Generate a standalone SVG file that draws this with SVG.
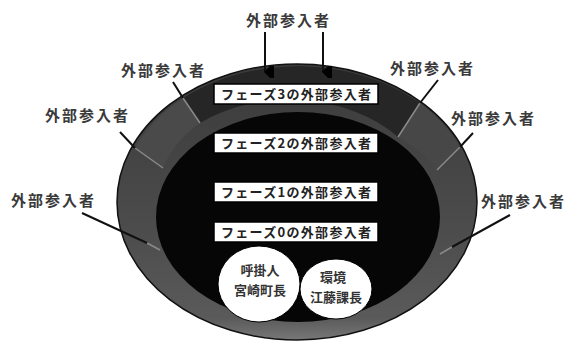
<svg xmlns="http://www.w3.org/2000/svg" width="583" height="346" viewBox="0 0 583 346">
<defs>
<style>
.lbl{font-family:"Noto Sans CJK JP","Noto Sans",sans-serif;font-size:15px;fill:#3a3a3a;font-weight:bold;letter-spacing:2px}
.ph{font-family:"Noto Sans CJK JP","Noto Sans",sans-serif;font-size:13px;fill:#222;font-weight:bold;text-anchor:middle}
.box{fill:#fff;stroke:#000;stroke-width:1.5}
.call{stroke:#111;stroke-width:2;fill:none}
.div{stroke:#8a8a8a;stroke-width:1.5;fill:none}
.ct{font-family:"Noto Sans CJK JP","Noto Sans",sans-serif;font-size:13px;fill:#333;font-weight:bold;text-anchor:middle}
</style>
<linearGradient id="ring" x1="0" y1="0" x2="0" y2="1">
<stop offset="0" stop-color="#3a3a3a"/>
<stop offset="0.6" stop-color="#4c4c4c"/>
<stop offset="0.92" stop-color="#5a5a5a"/>
<stop offset="1" stop-color="#777"/>
</linearGradient>
<marker id="ah" viewBox="0 0 12 12" refX="6" refY="11" markerWidth="12" markerHeight="12" markerUnits="userSpaceOnUse" orient="auto-start-reverse">
<path d="M0,2 L12,2 L12,6 L6,12 L0,6 Z" fill="#000"/>
</marker>
</defs>
<g id="bowl">
<ellipse cx="297" cy="202" rx="180" ry="138" fill="url(#ring)" stroke="#111" stroke-width="1.5"/>
<path d="M200,123 L183,98 A180,138 0 0 1 420,103 L398,137 A142,105 0 0 0 200,123 Z" fill="#262626"/>
<path d="M163,168 L135,148 A180,138 0 0 1 183,98 L200,123 A142,105 0 0 0 163,168 Z" fill="#4a4a4a"/>
<path d="M437,170 L460,147 A180,138 0 0 0 420,103 L398,137 A142,105 0 0 1 437,170 Z" fill="#474747"/>
<ellipse cx="298" cy="217" rx="142" ry="105" fill="#060606"/>
</g>
<g id="connectors">
<line class="div" x1="183" y1="98" x2="200" y2="123"/>
<line class="div" x1="135" y1="148" x2="163" y2="168"/>
<line class="div" x1="420" y1="103" x2="398" y2="137"/>
<line class="div" x1="460" y1="147" x2="437" y2="170"/>
<line class="div" x1="147" y1="243" x2="160" y2="250"/>
<line class="div" x1="452" y1="247" x2="440" y2="254"/>
<line class="call" x1="173" y1="82" x2="183" y2="98"/>
<line class="call" x1="120" y1="132" x2="135" y2="148"/>
<line class="call" x1="82" y1="213" x2="147" y2="243"/>
<line class="call" x1="438" y1="80" x2="420" y2="103"/>
<line class="call" x1="473" y1="133" x2="460" y2="147"/>
<line class="call" x1="510" y1="215" x2="452" y2="247"/>
<line class="call" x1="265" y1="32" x2="265" y2="72" marker-end="url(#ah)"/>
<line class="call" x1="323" y1="32" x2="323" y2="72" marker-end="url(#ah)"/>
</g>
<g id="lbl-top"><text class="lbl" x="246" y="26">外部参入者</text></g>
<g id="lbl-l1"><text class="lbl" x="121" y="76">外部参入者</text></g>
<g id="lbl-l2"><text class="lbl" x="45" y="121">外部参入者</text></g>
<g id="lbl-l3"><text class="lbl" x="11" y="206">外部参入者</text></g>
<g id="lbl-r1"><text class="lbl" x="390" y="74">外部参入者</text></g>
<g id="lbl-r2"><text class="lbl" x="451" y="124">外部参入者</text></g>
<g id="lbl-r3"><text class="lbl" x="481" y="207">外部参入者</text></g>
<g id="phase3"><rect class="box" x="214" y="84" width="164" height="20"/><text class="ph" x="296" y="99" textLength="150" lengthAdjust="spacing">フェーズ3の外部参入者</text></g>
<g id="phase2"><rect class="box" x="214" y="133" width="164" height="20"/><text class="ph" x="296" y="148" textLength="150" lengthAdjust="spacing">フェーズ2の外部参入者</text></g>
<g id="phase1"><rect class="box" x="214" y="182" width="164" height="20"/><text class="ph" x="296" y="197" textLength="150" lengthAdjust="spacing">フェーズ1の外部参入者</text></g>
<g id="phase0"><rect class="box" x="214" y="222" width="164" height="20"/><text class="ph" x="296" y="237" textLength="150" lengthAdjust="spacing">フェーズ0の外部参入者</text></g>
<g id="circle1"><ellipse cx="259" cy="284" rx="41" ry="38" fill="#fff" stroke="#000" stroke-width="1"/><text class="ct" x="260" y="275">呼掛人</text><text class="ct" x="260" y="295">宮崎町長</text></g>
<g id="circle2"><ellipse cx="336" cy="289" rx="36" ry="30" fill="#fff" stroke="#000" stroke-width="1"/><text class="ct" x="333" y="282">環境</text><text class="ct" x="336" y="302">江藤課長</text></g>
</svg>
